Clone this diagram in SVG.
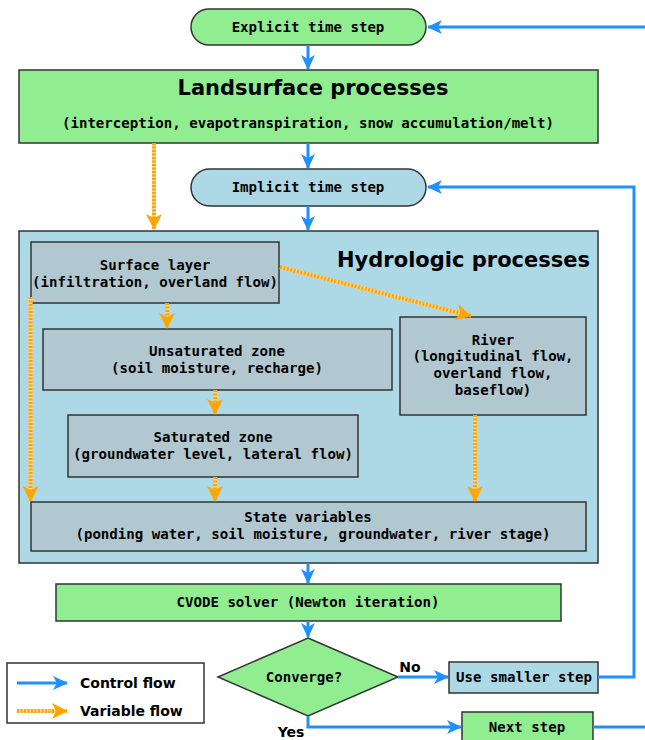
<svg xmlns="http://www.w3.org/2000/svg" width="645" height="740" viewBox="0 0 645 740">
<style>
.box{stroke:#333;stroke-width:1.5}
.g{fill:#90EE90}
.b{fill:#ADD8E6}
.s{fill:#B2C8D1}
.t{font-family:"DejaVu Sans Mono","Liberation Mono",monospace;font-size:14.1px;font-weight:bold;fill:#000;text-anchor:middle}
.h{font-family:"DejaVu Sans","Liberation Sans",sans-serif;font-size:21px;font-weight:bold;fill:#000}
.l{font-family:"DejaVu Sans","Liberation Sans",sans-serif;font-size:14px;font-weight:bold;fill:#000}
.cf{fill:none;stroke:#1E90FF;stroke-width:3;marker-end:url(#ab)}
.vb{fill:none;stroke:#FFD590;stroke-width:4}
.vf{fill:none;stroke:#FFA500;stroke-width:4;stroke-dasharray:2 1.5;marker-end:url(#ao)}
</style>
<defs>
<marker id="ab" markerUnits="userSpaceOnUse" markerWidth="16" markerHeight="14" refX="14" refY="7" orient="auto" overflow="visible">
<path d="M0,0 L15,7 L0,14 L4,7 z" fill="#1E90FF"/>
</marker>
<marker id="ao" markerUnits="userSpaceOnUse" markerWidth="16" markerHeight="16" refX="15" refY="8" orient="auto" overflow="visible">
<path d="M0,0 L16,8 L0,16 L4,8 z" fill="#FFA500"/>
</marker>
</defs>
<rect width="645" height="740" fill="#fff"/>

<g id="explicit">
<rect class="box g" x="191" y="9" width="235" height="36" rx="18"/>
<text class="t" x="308" y="32">Explicit time step</text>
</g>
<g id="landsurface">
<rect class="box g" x="19" y="70" width="579" height="73"/>
<text class="h" x="313" y="95" text-anchor="middle">Landsurface processes</text>
<text class="t" x="308" y="128">(interception, evapotranspiration, snow accumulation/melt)</text>
</g>
<g id="implicit">
<rect class="box b" x="191" y="169" width="235" height="37" rx="18.5"/>
<text class="t" x="308" y="192">Implicit time step</text>
</g>
<g id="hydrologic">
<rect class="box b" x="19" y="231" width="579" height="332"/>
<text class="h" x="590" y="267" text-anchor="end">Hydrologic processes</text>
</g>
<g id="surface">
<rect class="box s" x="31" y="242" width="248" height="61"/>
<text class="t" x="155" y="270">Surface layer</text>
<text class="t" x="155" y="287">(infiltration, overland flow)</text>
</g>
<g id="unsaturated">
<rect class="box s" x="43" y="329" width="349" height="61"/>
<text class="t" x="217" y="356">Unsaturated zone</text>
<text class="t" x="217" y="373">(soil moisture, recharge)</text>
</g>
<g id="saturated">
<rect class="box s" x="68" y="415" width="290" height="62"/>
<text class="t" x="213" y="442">Saturated zone</text>
<text class="t" x="213" y="459">(groundwater level, lateral flow)</text>
</g>
<g id="river">
<rect class="box s" x="400" y="317" width="186" height="98"/>
<text class="t" x="493" y="345">River</text>
<text class="t" x="493" y="361">(longitudinal flow,</text>
<text class="t" x="493" y="378">overland flow,</text>
<text class="t" x="493" y="395">baseflow)</text>
</g>
<g id="state">
<rect class="box s" x="31" y="502" width="555" height="49"/>
<text class="t" x="308" y="522">State variables</text>
<text class="t" x="313" y="539">(ponding water, soil moisture, groundwater, river stage)</text>
</g>
<g id="cvode">
<rect class="box g" x="56" y="584" width="505" height="37"/>
<text class="t" x="308" y="607">CVODE solver (Newton iteration)</text>
</g>
<g id="converge">
<polygon class="box g" points="308,638 398,677 308,716 218,677"/>
<text class="t" x="304" y="682">Converge?</text>
</g>
<g id="smaller">
<rect class="box b" x="449" y="662" width="149" height="31"/>
<text class="t" x="524" y="682">Use smaller step</text>
</g>
<g id="next">
<rect class="box g" x="462" y="712" width="131" height="34"/>
<text class="t" x="527" y="732">Next step</text>
</g>
<g id="legend">
<rect x="7" y="663" width="197" height="60" fill="#fff" stroke="#333" stroke-width="1.5"/>
<line class="cf" x1="17" y1="683" x2="67" y2="683"/>
<text class="l" x="80" y="688">Control flow</text>
<line class="vb" x1="17" y1="711" x2="60" y2="711"/>
<line class="vf" x1="17" y1="711" x2="67" y2="711"/>
<text class="l" x="80" y="716">Variable flow</text>
</g>

<g id="connectors">
<line class="cf" x1="308" y1="45" x2="308" y2="69"/>
<line class="cf" x1="308" y1="143" x2="308" y2="168"/>
<line class="cf" x1="308" y1="206" x2="308" y2="230"/>
<line class="cf" x1="645" y1="27" x2="428" y2="27"/>
<polyline class="cf" points="598,677 634,677 634,187 428,187"/>
<line class="cf" x1="308" y1="563" x2="308" y2="583"/>
<line class="cf" x1="308" y1="621" x2="308" y2="637"/>
<line class="cf" x1="398" y1="677" x2="448" y2="677"/>
<polyline class="cf" points="308,716 308,727 461,727"/>
<line x1="593" y1="727" x2="645" y2="727" stroke="#1E90FF" stroke-width="3"/>
<line class="vb" x1="154" y1="143" x2="154" y2="220"/>
<line class="vf" x1="154" y1="143" x2="154" y2="229"/>
<line class="vb" x1="167" y1="303" x2="167" y2="318"/>
<line class="vf" x1="167" y1="303" x2="167" y2="328"/>
<line class="vb" x1="215" y1="390" x2="215" y2="404"/>
<line class="vf" x1="215" y1="390" x2="215" y2="414"/>
<line class="vb" x1="215" y1="477" x2="215" y2="491"/>
<line class="vf" x1="215" y1="477" x2="215" y2="501"/>
<line class="vb" x1="30.5" y1="297" x2="30.5" y2="491"/>
<line class="vf" x1="30.5" y1="297" x2="30.5" y2="501"/>
<line class="vb" x1="475" y1="415" x2="475" y2="491"/>
<line class="vf" x1="475" y1="415" x2="475" y2="501"/>
<line class="vb" x1="280" y1="267" x2="461" y2="313.5"/>
<line class="vf" x1="280" y1="267" x2="471" y2="316"/>
<text class="l" x="410" y="672" text-anchor="middle">No</text>
<text class="l" x="291" y="737" text-anchor="middle">Yes</text>
</g>
</svg>
